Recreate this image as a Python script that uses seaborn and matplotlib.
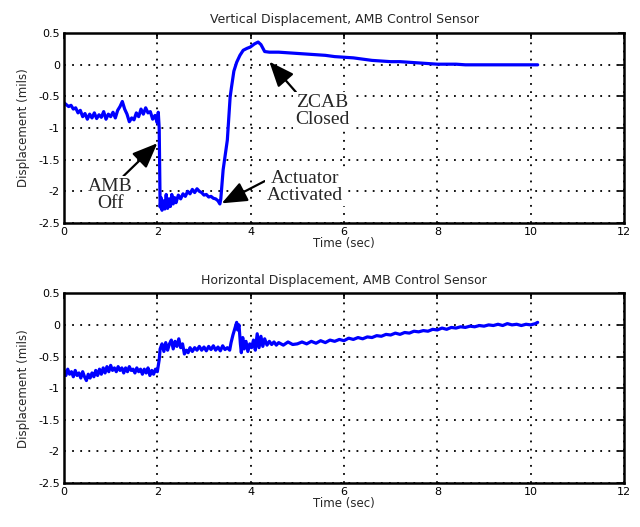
import matplotlib
matplotlib.use("Agg")
import matplotlib.pyplot as plt
import numpy as np
import seaborn as sns

# Vertical displacement (mils) vs time (sec)
t_vert = [0.00, 0.05, 0.10, 0.15, 0.20, 0.25, 0.30, 0.35, 0.40, 0.45,
          0.50, 0.55, 0.60, 0.65, 0.70, 0.75, 0.80, 0.85, 0.90, 0.95,
          1.00, 1.05, 1.10, 1.15, 1.20, 1.25, 1.30, 1.35, 1.40, 1.45,
          1.50, 1.55, 1.60, 1.65, 1.70, 1.75, 1.80, 1.85, 1.90, 1.95,
          2.00, 2.02, 2.04, 2.06, 2.08, 2.10, 2.13, 2.16, 2.19, 2.22,
          2.25, 2.28, 2.31, 2.34, 2.37, 2.40, 2.45, 2.50, 2.55, 2.60,
          2.65, 2.70, 2.75, 2.80, 2.85, 2.90, 2.95, 3.00, 3.05, 3.10,
          3.15, 3.20, 3.25, 3.30, 3.34, 3.36, 3.41, 3.50, 3.56, 3.59,
          3.64, 3.70, 3.77, 3.84, 3.92, 3.99, 4.08, 4.16, 4.22, 4.30,
          4.40, 4.60, 4.80, 5.00, 5.20, 5.40, 5.60, 5.80, 6.00, 6.20,
          6.40, 6.60, 6.80, 7.00, 7.20, 7.40, 7.60, 7.80, 8.00, 8.20,
          8.40, 8.60, 9.00, 9.50, 10.15]
v_vert = [-0.60, -0.63, -0.66, -0.64, -0.70, -0.68, -0.76, -0.72, -0.82, -0.77,
          -0.86, -0.78, -0.84, -0.76, -0.85, -0.79, -0.83, -0.74, -0.86, -0.78,
          -0.82, -0.75, -0.84, -0.72, -0.66, -0.58, -0.70, -0.78, -0.90, -0.84,
          -0.87, -0.76, -0.82, -0.70, -0.78, -0.68, -0.76, -0.74, -0.86, -0.80,
          -0.92, -0.75, -1.00, -2.25, -2.10, -2.30, -2.15, -2.28, -2.05, -2.27,
          -2.12, -2.24, -2.05, -2.20, -2.10, -2.18, -2.06, -2.12, -2.04, -2.08,
          -2.00, -2.04, -1.97, -2.02, -1.96, -2.00, -2.02, -2.06, -2.05, -2.09,
          -2.08, -2.11, -2.12, -2.15, -2.20, -2.12, -1.66, -1.19, -0.51, -0.35,
          -0.10, 0.04, 0.15, 0.23, 0.26, 0.28, 0.33, 0.36, 0.32, 0.21,
          0.20, 0.20, 0.19, 0.18, 0.17, 0.16, 0.15, 0.13, 0.12, 0.11,
          0.09, 0.07, 0.06, 0.05, 0.05, 0.04, 0.03, 0.02, 0.01, 0.01,
          0.01, 0.00, 0.00, 0.00, 0.00]

# Horizontal displacement (mils) vs time (sec)
t_horz = [0.00, 0.04, 0.08, 0.12, 0.16, 0.20, 0.24, 0.28, 0.32, 0.36,
          0.40, 0.44, 0.48, 0.52, 0.56, 0.60, 0.64, 0.68, 0.72, 0.76,
          0.80, 0.84, 0.88, 0.92, 0.96, 1.00, 1.04, 1.08, 1.12, 1.16,
          1.20, 1.24, 1.28, 1.32, 1.36, 1.40, 1.44, 1.48, 1.52, 1.56,
          1.60, 1.64, 1.68, 1.72, 1.76, 1.80, 1.84, 1.88, 1.92, 1.96,
          2.00, 2.04, 2.06, 2.10, 2.14, 2.18, 2.22, 2.26, 2.30, 2.34,
          2.38, 2.42, 2.46, 2.50, 2.54, 2.58, 2.62, 2.66, 2.70, 2.75,
          2.80, 2.85, 2.90, 2.95, 3.00, 3.05, 3.10, 3.15, 3.20, 3.25,
          3.30, 3.35, 3.40, 3.45, 3.50, 3.55, 3.58, 3.62, 3.66, 3.70,
          3.72, 3.75, 3.78, 3.80, 3.83, 3.86, 3.90, 3.94, 3.98, 4.02,
          4.06, 4.10, 4.14, 4.18, 4.22, 4.26, 4.30, 4.35, 4.40, 4.45,
          4.50, 4.55, 4.60, 4.70, 4.80, 4.90, 5.00, 5.10, 5.20, 5.30,
          5.40, 5.50, 5.60, 5.70, 5.80, 5.90, 6.00, 6.10, 6.20, 6.30,
          6.40, 6.50, 6.60, 6.70, 6.80, 6.90, 7.00, 7.10, 7.20, 7.30,
          7.40, 7.50, 7.60, 7.70, 7.80, 7.90, 8.00, 8.10, 8.20, 8.30,
          8.40, 8.50, 8.60, 8.70, 8.80, 8.90, 9.00, 9.10, 9.20, 9.30,
          9.40, 9.50, 9.60, 9.70, 9.80, 9.90, 10.00, 10.10, 10.15]
v_horz = [-0.72, -0.80, -0.70, -0.78, -0.74, -0.82, -0.72, -0.80, -0.76, -0.84,
          -0.74, -0.82, -0.88, -0.78, -0.84, -0.76, -0.82, -0.72, -0.80, -0.70,
          -0.78, -0.68, -0.76, -0.66, -0.74, -0.64, -0.72, -0.68, -0.74, -0.66,
          -0.72, -0.68, -0.76, -0.68, -0.74, -0.66, -0.72, -0.70, -0.76, -0.68,
          -0.74, -0.70, -0.78, -0.70, -0.76, -0.68, -0.80, -0.72, -0.78, -0.70,
          -0.74, -0.55, -0.38, -0.30, -0.42, -0.28, -0.40, -0.30, -0.24, -0.38,
          -0.26, -0.34, -0.22, -0.36, -0.30, -0.46, -0.40, -0.44, -0.36, -0.42,
          -0.36, -0.40, -0.34, -0.40, -0.35, -0.41, -0.34, -0.39, -0.33, -0.40,
          -0.35, -0.41, -0.33, -0.39, -0.36, -0.40, -0.28, -0.16, -0.06, 0.04,
          -0.08, 0.00, -0.30, -0.44, -0.20, -0.38, -0.26, -0.42, -0.30, -0.36,
          -0.24, -0.40, -0.14, -0.36, -0.18, -0.34, -0.22, -0.32, -0.26, -0.31,
          -0.27, -0.32, -0.28, -0.32, -0.27, -0.31, -0.30, -0.27, -0.30, -0.26,
          -0.29, -0.25, -0.28, -0.24, -0.26, -0.23, -0.25, -0.21, -0.23, -0.20,
          -0.22, -0.19, -0.20, -0.17, -0.18, -0.15, -0.16, -0.13, -0.15, -0.12,
          -0.13, -0.10, -0.11, -0.09, -0.10, -0.07, -0.08, -0.05, -0.07, -0.04,
          -0.05, -0.03, -0.04, -0.02, -0.03, -0.01, -0.02, 0.00, -0.01, 0.01,
          -0.01, 0.02, 0.00, 0.01, -0.01, 0.01, 0.00, 0.02, 0.04]

x_ticks = [0, 2, 4, 6, 8, 10, 12]
y_ticks = [0.5, 0, -0.5, -1, -1.5, -2, -2.5]
y_labels = ["0.5", "0", "-0.5", "-1", "-1.5", "-2", "-2.5"]

sns.set_theme(style="white")
plt.rcParams['font.family'] = ['DejaVu Sans']

fig = plt.figure(figsize=(6.4, 5.27), dpi=100)
ax1 = fig.add_axes([0.100, 0.577, 0.875, 0.360])
ax2 = fig.add_axes([0.100, 0.0835, 0.875, 0.360])

panels = [
    (ax1, t_vert, v_vert, "Vertical Displacement, AMB Control Sensor"),
    (ax2, t_horz, v_horz, "Horizontal Displacement, AMB Control Sensor"),
]

for ax, t, v, title in panels:
    sns.lineplot(x=t, y=v, ax=ax, color="#0000ff", linewidth=2.3, sort=False)
    ax.set_xlim(0, 12)
    ax.set_ylim(-2.5, 0.5)
    ax.set_xticks(x_ticks)
    ax.set_yticks(y_ticks)
    ax.set_yticklabels(y_labels)
    ax.grid(True, color="black", linestyle=(0, (1, 3.5)), linewidth=1.3)
    ax.tick_params(direction="in", length=4, width=1.2, top=True, right=True,
                   labelsize=8, colors="black", pad=3)
    for sp in ax.spines.values():
        sp.set_color("black")
        sp.set_linewidth(1.8)
    ax.set_title(title, fontsize=9, pad=7)
    ax.set_xlabel("Time (sec)", fontsize=8.5, labelpad=0)
    ax.set_ylabel("Displacement (mils)", fontsize=8.5, labelpad=6)

# annotations on the vertical panel
serif = ["Liberation Serif", "DejaVu Serif"]
box = dict(boxstyle="square,pad=0.1", facecolor="white", edgecolor="none")


def arrow(rel):
    return dict(arrowstyle="-|>,head_length=1.1,head_width=0.45", color="black",
                linewidth=1.6, shrinkA=0, shrinkB=0, relpos=rel)


ax1.annotate("AMB\nOff", xy=(2.0, -1.24), xytext=(0.99, -2.06),
             ha="center", va="center", fontsize=14, family=serif,
             linespacing=1.0, arrowprops=arrow((0.75, 1.0)), bbox=box)
ax1.annotate("Actuator\nActivated", xy=(3.38, -2.19), xytext=(5.16, -1.93),
             ha="center", va="center", fontsize=14, family=serif,
             linespacing=1.0, arrowprops=arrow((0.0, 0.7)), bbox=box)
ax1.annotate("ZCAB\nClosed", xy=(4.4, 0.05), xytext=(5.53, -0.73),
             ha="center", va="center", fontsize=14, family=serif,
             linespacing=1.0, arrowprops=arrow((0.05, 1.0)), bbox=box)

fig.savefig("out.png", dpi=100, facecolor="white")
